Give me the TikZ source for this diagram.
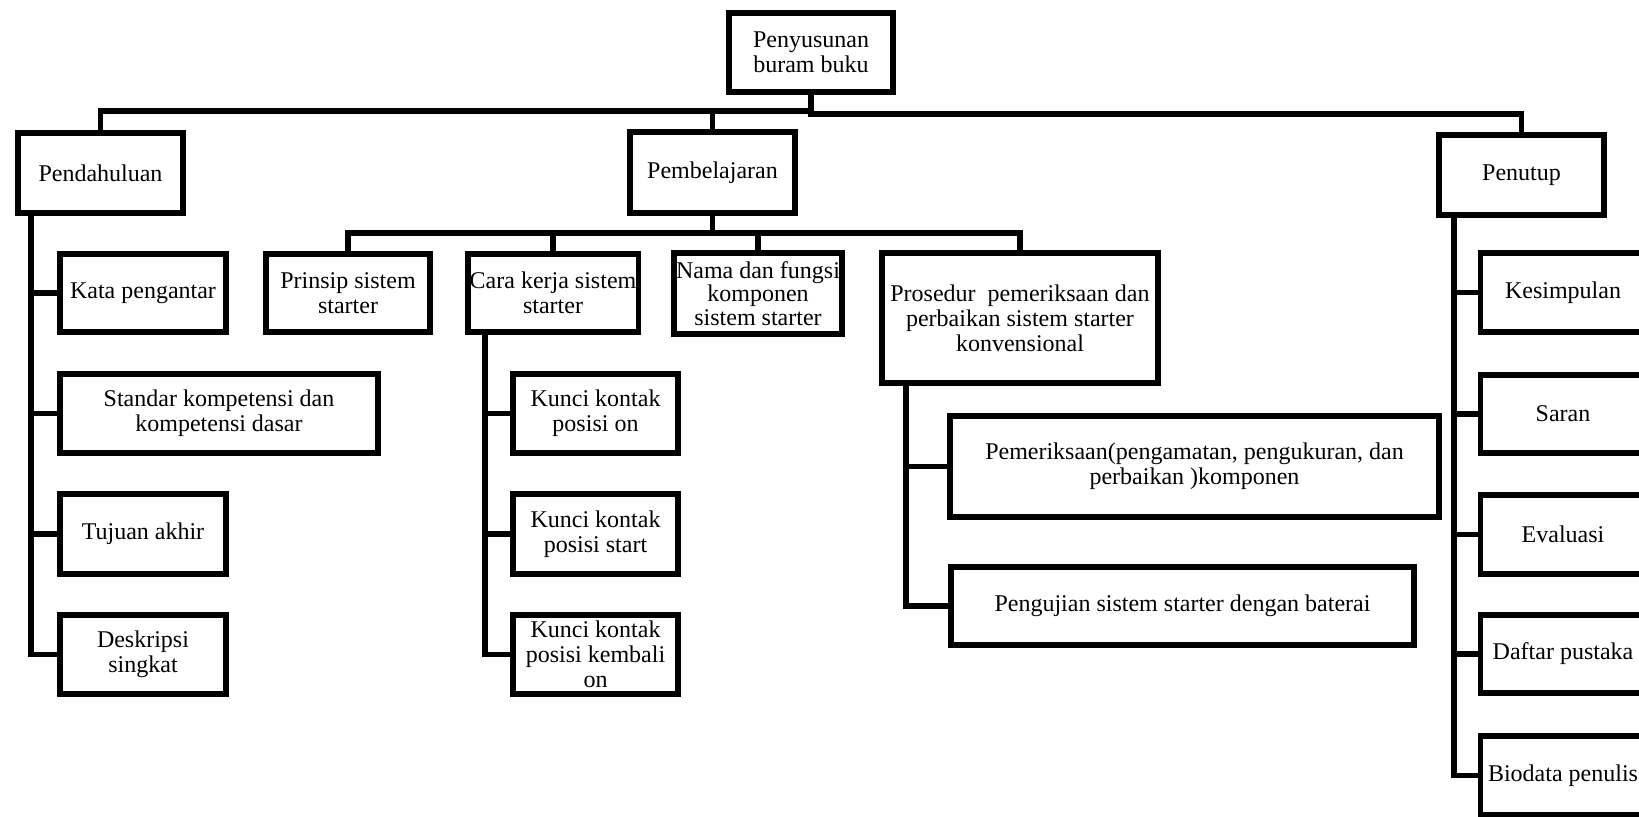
\documentclass[tikz,border=0pt]{standalone}
\usepackage{fontspec}
\setmainfont{Liberation Serif}
\begin{document}
\begin{tikzpicture}[x=0.5pt,y=-0.5pt,
  bx/.style={draw, line width=2.8pt, fill=white, align=center, inner sep=1pt,
    font=\fontsize{12}{12.5}\selectfont},
  sz/.style 2 args={minimum width=#1*0.5pt-2.8pt, minimum height=#2*0.5pt-2.8pt},
  ln/.style={line width=2.8pt}]
\useasboundingbox (0,0) rectangle (1639,817);
\clip (0,0) rectangle (1639,817);
% top
\node[bx, sz={170}{85}] (root) at (811,52.5) {Penyusunan\\buram buku};
\node[bx, sz={171}{86}] (pend) at (100.5,173) {Pendahuluan};
\node[bx, sz={171}{87}] (pemb) at (712.5,172.5) {Pembelajaran};
\node[bx, sz={171}{86}] (penutup) at (1521.5,175) {Penutup};
% Pendahuluan children
\node[bx, sz={172}{84}] (kata) at (143,293) {Kata pengantar};
\node[bx, sz={324}{85}] (standar) at (219,413.5) {Standar kompetensi dan\\kompetensi dasar};
\node[bx, sz={172}{86}] (tujuan) at (143,534) {Tujuan akhir};
\node[bx, sz={172}{85}] (desk) at (143,654.5) {Deskripsi\\singkat};
% Pembelajaran children
\node[bx, sz={170}{84}] (prinsip) at (348,293) {Prinsip sistem\\starter};
\node[bx, sz={170}{84}] (cara) at (553,293) {Cara kerja sistem\\starter};
\node[bx, sz={172}{87}, font=\fontsize{12}{11.7}\selectfont] (nama) at (758,293.5) {Nama dan fungsi\\komponen\\sistem starter};
\node[bx, sz={282}{136}] (pros) at (1020,318) {Prosedur~ pemeriksaan dan\\perbaikan sistem starter\\konvensional};
\node[bx, sz={171}{85}] (k1) at (595.5,413.5) {Kunci kontak\\posisi on};
\node[bx, sz={171}{86}] (k2) at (595.5,534) {Kunci kontak\\posisi start};
\node[bx, sz={171}{85}] (k3) at (595.5,654.5) {Kunci kontak\\posisi kembali\\on};
\node[bx, sz={495}{107}] (pem) at (1194.5,466.5) {Pemeriksaan(pengamatan, pengukuran, dan\\perbaikan )komponen};
\node[bx, sz={469}{84}] (uji) at (1182.5,606) {Pengujian sistem starter dengan baterai};
% Penutup children
\node[bx, sz={171}{85}] (kes) at (1563,292.5) {Kesimpulan};
\node[bx, sz={171}{84}] (saran) at (1563,414) {Saran};
\node[bx, sz={171}{85}] (eval) at (1563,534.5) {Evaluasi};
\node[bx, sz={171}{84}] (daftar) at (1563,654) {Daftar pustaka};
\node[bx, sz={171}{85}] (bio) at (1563,775.5) {Biodata penulis};
% connectors
\coordinate (busL) at (811,111);
\coordinate (busR) at (811,114);
\coordinate (sub) at (712.5,233);
\coordinate (tP) at (31,0);
\coordinate (tC) at (485,0);
\coordinate (tR) at (906,0);
\coordinate (tN) at (1454,0);
\draw[ln] (root.south) -- (busR) -| (penutup.north);
\draw[ln] (busL) -| (pend.north);
\draw[ln] (pemb.north) -- (pemb.north |- busL);
\draw[ln] (pemb.south) -- (sub);
\draw[ln] (prinsip.north) |- (sub) -| (pros.north);
\draw[ln] (cara.north) -- (cara.north |- sub);
\draw[ln] (nama.north) -- (nama.north |- sub);
\draw[ln] (pend.south -| tP) |- (desk.west);
\foreach \n in {kata,standar,tujuan} \draw[ln] (tP |- \n.west) -- (\n.west);
\draw[ln] (cara.south -| tC) |- (k3.west);
\foreach \n in {k1,k2} \draw[ln] (tC |- \n.west) -- (\n.west);
\draw[ln] (pros.south -| tR) |- (uji.west);
\draw[ln] (tR |- pem.west) -- (pem.west);
\draw[ln] (penutup.south -| tN) |- (bio.west);
\foreach \n in {kes,saran,eval,daftar} \draw[ln] (tN |- \n.west) -- (\n.west);
\end{tikzpicture}
\end{document}
